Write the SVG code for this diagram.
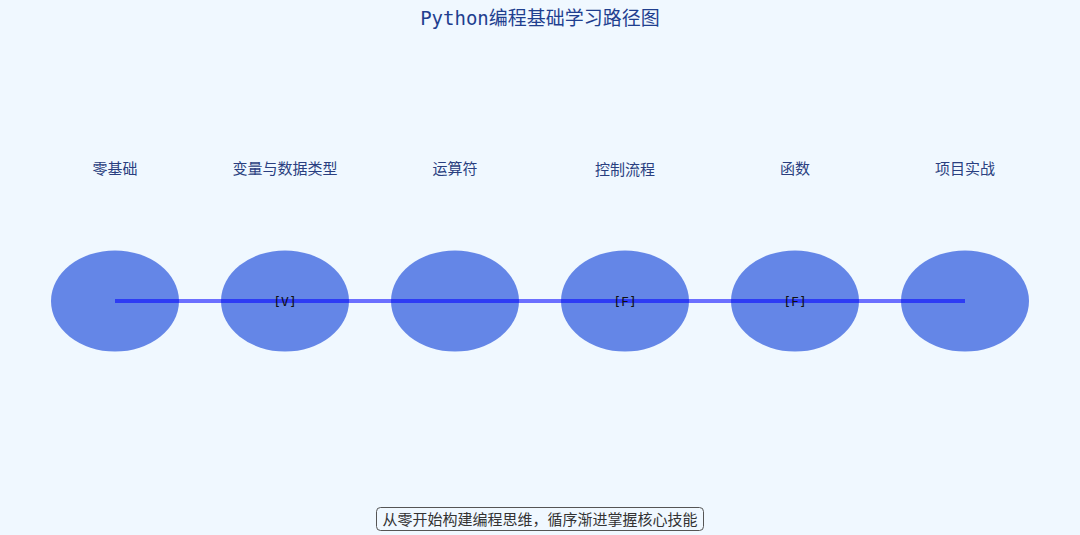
<svg xmlns="http://www.w3.org/2000/svg" width="1080" height="535" viewBox="0 0 1080 535">
<style>
.title{font-family:"DejaVu Sans Mono","Noto Sans CJK SC",monospace;font-size:19px;fill:#1f3f8f;text-anchor:middle}
.lbl{font-family:"DejaVu Sans","Noto Sans CJK SC",sans-serif;font-size:15px;fill:#2a3f80;text-anchor:middle}
.node{fill:#4169e1;fill-opacity:0.8}
.tag{font-family:"DejaVu Sans Mono",monospace;font-size:13px;fill:#111;text-anchor:middle;dominant-baseline:central}
.cap{font-family:"DejaVu Sans","Noto Sans CJK SC",sans-serif;font-size:15px;fill:#333;text-anchor:middle}
</style>
<rect width="1080" height="535" fill="#f0f8ff"/>
<text class="title" x="540" y="25">Python编程基础学习路径图</text>
<g id="labels">
<text class="lbl" x="115" y="174">零基础</text>
<text class="lbl" x="285" y="174">变量与数据类型</text>
<text class="lbl" x="455" y="174">运算符</text>
<text class="lbl" x="625" y="175">控制流程</text>
<text class="lbl" x="795" y="174">函数</text>
<text class="lbl" x="965" y="174">项目实战</text>
</g>
<g id="n1"><ellipse class="node" cx="115" cy="301" rx="64" ry="50.5"/></g>
<g id="n2"><ellipse class="node" cx="285" cy="301" rx="64" ry="50.5"/></g>
<g id="n3"><ellipse class="node" cx="455" cy="301" rx="64" ry="50.5"/></g>
<g id="n4"><ellipse class="node" cx="625" cy="301" rx="64" ry="50.5"/></g>
<g id="n5"><ellipse class="node" cx="795" cy="301" rx="64" ry="50.5"/></g>
<g id="n6"><ellipse class="node" cx="965" cy="301" rx="64" ry="50.5"/></g>
<g id="connectors">
<line x1="115" y1="301" x2="965" y2="301" stroke="#0000ff" stroke-opacity="0.55" stroke-width="4"/>
</g>
<g id="tags">
<text class="tag" x="285" y="301">[V]</text>
<text class="tag" x="625" y="301">[F]</text>
<text class="tag" x="795" y="301">[F]</text>
</g>
<g id="caption">
<rect x="376.5" y="507.5" width="327" height="23" rx="4" fill="#f0f8ff" stroke="#555" stroke-width="1"/>
<text class="cap" x="540" y="524.5">从零开始构建编程思维，循序渐进掌握核心技能</text>
</g>
</svg>
